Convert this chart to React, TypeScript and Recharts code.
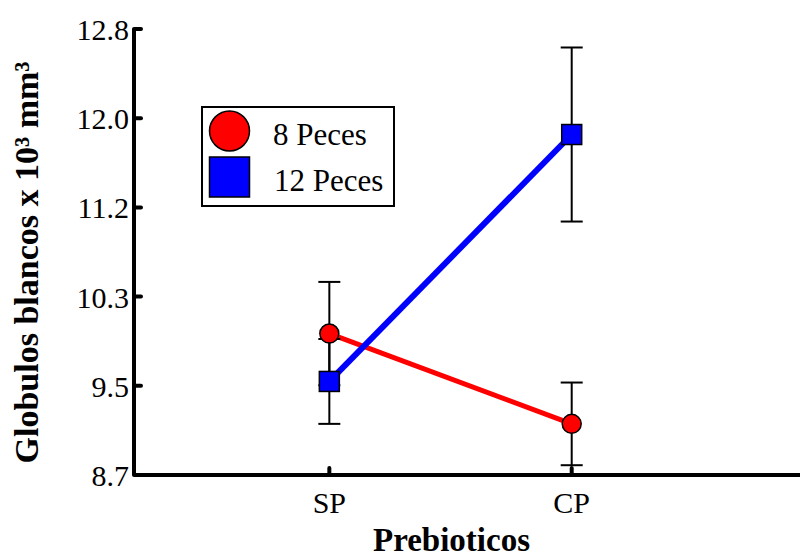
import { LineChart, Line, XAxis, YAxis, ErrorBar, Label } from "recharts";

const categories = ["SP", "CP"];
const xPositions = [1, 2];
const peces8 = [10.0, 9.17];
const peces8Err = [0.475, 0.38];
const peces12 = [9.56, 11.83];
const peces12Err = [0.39, 0.8];
const yTicks = [8.7, 9.52, 10.34, 11.16, 11.98, 12.8];
const seriesNames = ["8 Peces", "12 Peces"];

const data = categories.map((c, i) => ({
  x: xPositions[i],
  cat: c,
  p8: peces8[i],
  p8e: peces8Err[i],
  p12: peces12[i],
  p12e: peces12Err[i],
}));

const SERIF = "'Liberation Serif', 'Times New Roman', serif";

const XTick = (props: any) => {
  const { x, y, payload } = props;
  const idx = xPositions.indexOf(payload.value);
  return (
    <g>
      <line x1={x} x2={x} y1={y} y2={y - 7} stroke="#000" strokeWidth={4} strokeLinecap="round" />
      <text x={x} y={y + 38} textAnchor="middle" fontSize={30} fontFamily={SERIF} fill="#000">
        {categories[idx]}
      </text>
    </g>
  );
};

const YTick = (props: any) => {
  const { x, y, payload } = props;
  return (
    <g>
      <line x1={x} x2={x + 7} y1={y} y2={y} stroke="#000" strokeWidth={4} strokeLinecap="round" />
      <text x={x - 5} y={y + 11} textAnchor="end" fontSize={30} fontFamily={SERIF} fill="#000">
        {Number(payload.value).toFixed(1)}
      </text>
    </g>
  );
};

const RedDot = (props: any) => {
  const { cx, cy } = props;
  if (cx == null || cy == null) return null;
  return <circle cx={cx} cy={cy} r={9.5} fill="#ff0000" stroke="#000" strokeWidth={1.5} />;
};

const BlueDot = (props: any) => {
  const { cx, cy } = props;
  if (cx == null || cy == null) return null;
  return <rect x={cx - 10} y={cy - 10} width={20} height={20} fill="#0000ff" stroke="#000" strokeWidth={1.5} />;
};

// legend drawn inside the svg so it does not take space from the plot
const LegendBox = () => (
  <g transform="translate(193 98)">
    <rect x={1} y={1} width={192} height={99} fill="#fff" stroke="#000" strokeWidth={2} />
    <circle cx={28.5} cy={25} r={20} fill="#ff0000" stroke="#000" strokeWidth={1.5} />
    <rect x={8.5} y={51} width={40} height={40} fill="#0000ff" stroke="#000" strokeWidth={1.5} />
    <text x={72} y={39} fontSize={31} fontFamily={SERIF} fill="#000">{seriesNames[0]}</text>
    <text x={73} y={85} fontSize={31} fontFamily={SERIF} fill="#000">{seriesNames[1]}</text>
  </g>
);

export default function App() {
  return (
    <LineChart
      width={800}
      height={551}
      data={data}
      margin={{ top: 21, right: 0, bottom: 0, left: 0 }}
    >
      <XAxis
        dataKey="x"
        type="number"
        domain={[0.194, 2.975]}
        ticks={xPositions}
        allowDataOverflow
        height={84}
        tickSize={0}
        tickMargin={0}
        tick={<XTick />}
        axisLine={{ stroke: "#000", strokeWidth: 4 }}
      >
        <Label
          content={() => (
            <text x={443.5} y={543} textAnchor="middle" fontSize={33} fontWeight="bold" fontFamily={SERIF} fill="#000">
              Prebioticos
            </text>
          )}
        />
      </XAxis>
      <YAxis
        type="number"
        domain={[8.7, 12.8]}
        ticks={yTicks}
        allowDataOverflow
        width={126}
        tickSize={0}
        tickMargin={0}
        tick={<YTick />}
        axisLine={{ stroke: "#000", strokeWidth: 4 }}
      >
        <Label
          content={() => (
            <g>
              <text
                x={30}
                y={254.5}
                transform="rotate(-90 30 254.5)"
                textAnchor="middle"
                fontSize={34}
                fontWeight="bold"
                fontFamily={SERIF}
                fill="#000"
              >
                Globulos blancos x 10³ mm³
              </text>
              <LegendBox />
            </g>
          )}
        />
      </YAxis>
      <Line
        dataKey="p8"
        name={seriesNames[0]}
        stroke="#ff0000"
        strokeWidth={5}
        dot={<RedDot />}
        activeDot={false}
        isAnimationActive={false}
      >
        <ErrorBar dataKey="p8e" direction="y" width={11} stroke="#000" strokeWidth={2} isAnimationActive={false} />
      </Line>
      <Line
        dataKey="p12"
        name={seriesNames[1]}
        stroke="#0000ff"
        strokeWidth={6}
        dot={<BlueDot />}
        activeDot={false}
        isAnimationActive={false}
      >
        <ErrorBar dataKey="p12e" direction="y" width={11} stroke="#000" strokeWidth={2} isAnimationActive={false} />
      </Line>
    </LineChart>
  );
}
